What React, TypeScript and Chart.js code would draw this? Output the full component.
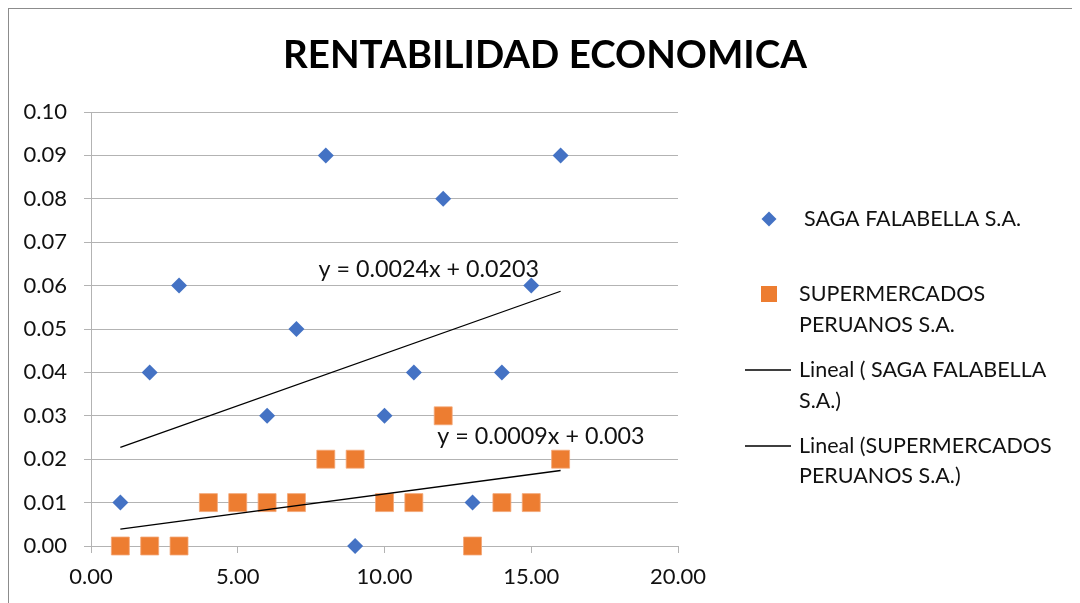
import React, { useEffect, useRef } from "react";
import { Chart, registerables } from "chart.js";

Chart.register(...registerables);

const titleText = "RENTABILIDAD ECONOMICA";
const xValues = [1, 2, 3, 4, 5, 6, 7, 8, 9, 10, 11, 12, 13, 14, 15, 16];
const sagaValues = [0.01, 0.04, 0.06, 0.01, 0.01, 0.03, 0.05, 0.09, 0.0, 0.03, 0.04, 0.08, 0.01, 0.04, 0.06, 0.09];
const superValues = [0.0, 0.0, 0.0, 0.01, 0.01, 0.01, 0.01, 0.02, 0.02, 0.01, 0.01, 0.03, 0.0, 0.01, 0.01, 0.02];
const sagaTrend = [0.0024, 0.0203]; // slope, intercept
const superTrend = [0.0009, 0.003];
const sagaLabel = "SAGA FALABELLA S.A.";
const superLabel = ["SUPERMERCADOS", "PERUANOS S.A."];
const sagaTrendLabel = ["Lineal ( SAGA FALABELLA", "S.A.)"];
const superTrendLabel = ["Lineal (SUPERMERCADOS", "PERUANOS S.A.)"];
const sagaEq = "y = 0.0024x + 0.0203";
const superEq = "y = 0.0009x + 0.003";

const BLUE = "#4472C4";
const ORANGE = "#ED7D31";
const FONT = "Lato";
const TEXT = "#111";

function trendPoints(coef: number[]) {
  const xmin = Math.min(...xValues);
  const xmax = Math.max(...xValues);
  return [xmin, xmax].map((x) => ({ x, y: coef[0] * x + coef[1] }));
}

const overlayPlugin = {
  id: "overlay",
  afterDraw(chart: any) {
    const ctx = chart.ctx;
    const xs = chart.scales.x;
    const ys = chart.scales.y;
    ctx.save();
    // title
    ctx.fillStyle = "#000";
    ctx.font = `bold 38.5px ${FONT}`;
    ctx.textAlign = "center";
    ctx.textBaseline = "middle";
    ctx.fillText(titleText, 536, 47);

    // trend equations
    ctx.font = `23.3px ${FONT}`;
    ctx.textAlign = "left";
    ctx.fillStyle = TEXT;
    ctx.fillText(sagaEq, xs.getPixelForValue(7.75), ys.getPixelForValue(0.0636));
    ctx.fillText(superEq, xs.getPixelForValue(11.8), ys.getPixelForValue(0.0253));

    // legend
    ctx.font = `21.5px ${FONT}`;
    ctx.textBaseline = "middle";
    // diamond
    ctx.fillStyle = BLUE;
    ctx.beginPath();
    ctx.moveTo(760, 210 - 7.5);
    ctx.lineTo(760 + 7.5, 210);
    ctx.lineTo(760, 210 + 7.5);
    ctx.lineTo(760 - 7.5, 210);
    ctx.closePath();
    ctx.fill();
    ctx.fillStyle = TEXT;
    ctx.fillText(sagaLabel, 795, 210);
    // square
    ctx.fillStyle = ORANGE;
    ctx.fillRect(760 - 8, 285 - 8, 16, 16);
    ctx.fillStyle = TEXT;
    ctx.fillText(superLabel[0], 790, 285);
    ctx.fillText(superLabel[1], 790, 316);
    // trend lines
    ctx.strokeStyle = "#000";
    ctx.lineWidth = 1.3;
    ctx.beginPath();
    ctx.moveTo(736, 361);
    ctx.lineTo(782, 361);
    ctx.moveTo(736, 437);
    ctx.lineTo(782, 437);
    ctx.stroke();
    ctx.fillText(sagaTrendLabel[0], 790, 361);
    ctx.fillText(sagaTrendLabel[1], 790, 392);
    ctx.fillText(superTrendLabel[0], 790, 437);
    ctx.fillText(superTrendLabel[1], 790, 467);
    ctx.restore();
  },
};

export default function App() {
  const ref = useRef<HTMLCanvasElement>(null);
  useEffect(() => {
    if (!ref.current) return;
    const chart = new Chart(ref.current, {
      type: "scatter",
      data: {
        datasets: [
          {
            type: "line",
            label: "Lineal SAGA",
            data: trendPoints(sagaTrend),
            borderColor: "#000",
            borderWidth: 1.3,
            pointRadius: 0,
            fill: false,
            order: 0,
            clip: false,
          } as any,
          {
            type: "line",
            label: "Lineal SUPER",
            data: trendPoints(superTrend),
            borderColor: "#000",
            borderWidth: 1.3,
            pointRadius: 0,
            fill: false,
            order: 0,
            clip: false,
          } as any,
          {
            label: superLabel.join(" "),
            data: xValues.map((x, i) => ({ x, y: superValues[i] })),
            pointStyle: "rect",
            pointRadius: 12.7,
            backgroundColor: ORANGE,
            borderColor: "#F4A777",
            borderWidth: 0.8,
            order: 1,
            clip: false,
          } as any,
          {
            label: sagaLabel,
            data: xValues.map((x, i) => ({ x, y: sagaValues[i] })),
            pointStyle: "rectRot",
            pointRadius: 8,
            backgroundColor: BLUE,
            borderColor: BLUE,
            borderWidth: 0,
            order: 2,
            clip: false,
          } as any,
        ],
      },
      options: {
        animation: false,
        responsive: false,
        layout: { padding: { top: 103, right: 402, left: 0, bottom: 0 } },
        plugins: {
          legend: { display: false },
          title: { display: false },
          tooltip: { enabled: false },
        },
        scales: {
          x: {
            type: "linear",
            min: 0,
            max: 20,
            ticks: {
              stepSize: 5,
              padding: 11,
              color: TEXT,
              font: { family: FONT, size: 22 },
              callback: (v: any) => Number(v).toFixed(2),
            },
            grid: { drawOnChartArea: false, drawTicks: true, tickLength: 7, color: "#b3b3b3" },
            border: { display: false },
            afterFit: (s: any) => {
              s.height = 57;
            },
          },
          y: {
            type: "linear",
            min: 0,
            max: 0.1,
            ticks: {
              stepSize: 0.01,
              padding: 17,
              color: TEXT,
              font: { family: FONT, size: 22 },
              callback: (v: any) => Number(v).toFixed(2),
            },
            grid: { color: "#b3b3b3", tickLength: 7, lineWidth: 1 },
            border: { display: true, color: "#b3b3b3" },
            afterFit: (s: any) => {
              s.width = 82;
            },
          },
        },
      },
      plugins: [overlayPlugin],
    });
    return () => chart.destroy();
  }, []);
  return (
    <div
      style={{
        width: 1071,
        height: 594,
        borderLeft: "1px solid #8c8c8c",
        borderTop: "1px solid #8c8c8c",
        position: "relative",
        background: "#fff",
      }}
    >
      <canvas ref={ref} width={1071} height={594} style={{ display: "block" }} />
    </div>
  );
}
